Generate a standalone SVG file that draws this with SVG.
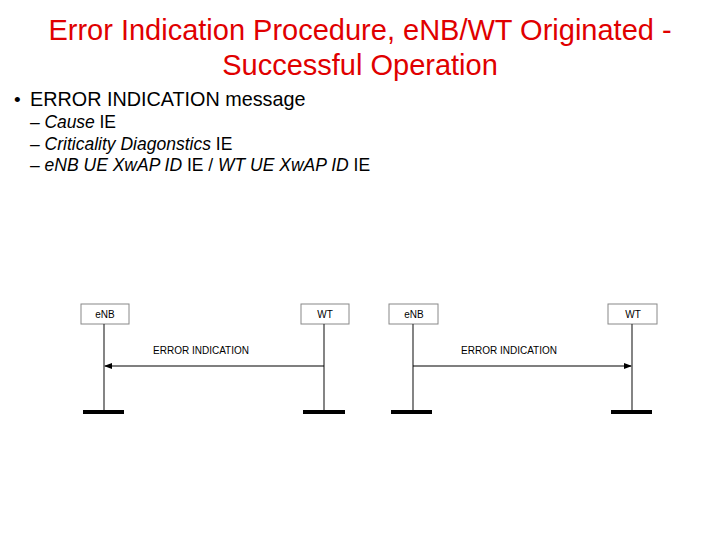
<svg xmlns="http://www.w3.org/2000/svg" width="720" height="540" viewBox="0 0 720 540">
<style>
.t{font-family:"Liberation Sans",Arial,sans-serif;fill:#e00000;font-size:29px;text-anchor:middle}
.b{font-family:"Liberation Sans",Arial,sans-serif;fill:#000}
.box{fill:#fff;stroke:#888;stroke-width:1}
.lbl{font-family:"Liberation Sans",Arial,sans-serif;font-size:10px;text-anchor:middle;fill:#000}
.life{stroke:#333;stroke-width:1.2}
.bar{fill:#000}
.msg{stroke:#000;stroke-width:1.2;fill:none}
</style>
<defs><marker id="ah" markerWidth="8" markerHeight="6" refX="7" refY="3" orient="auto" markerUnits="userSpaceOnUse"><path d="M0,0 L8,3 L0,6 z" fill="#000"/></marker></defs>
<text class="t" x="360" y="40">Error Indication Procedure, eNB/WT Originated -</text>
<text class="t" x="360" y="75">Successful Operation</text>
<text class="b" x="14" y="106" font-size="19">•</text>
<text class="b" x="30" y="106" font-size="19.8">ERROR INDICATION message</text>
<text class="b" x="30" y="128" font-size="17.5" textLength="86">– <tspan font-style="italic">Cause</tspan> IE</text>
<text class="b" x="30" y="150" font-size="17.5">– <tspan font-style="italic">Criticality Diagonstics</tspan> IE</text>
<text class="b" x="30" y="171" font-size="17.5">– <tspan font-style="italic">eNB UE XwAP ID</tspan> IE / <tspan font-style="italic">WT UE XwAP ID</tspan> IE</text>
<g id="l-enb"><rect class="box" x="81" y="304" width="48" height="20"/><text class="lbl" x="105" y="318">eNB</text><line class="life" x1="104" y1="324" x2="104" y2="410"/><rect class="bar" x="83" y="410" width="41" height="4"/></g>
<g id="l-wt"><rect class="box" x="301" y="304" width="48" height="20"/><text class="lbl" x="325" y="318">WT</text><line class="life" x1="324" y1="324" x2="324" y2="410"/><rect class="bar" x="303" y="410" width="42" height="4"/></g>
<g id="r-enb"><rect class="box" x="389" y="304" width="49" height="20"/><text class="lbl" x="414" y="318">eNB</text><line class="life" x1="413" y1="324" x2="413" y2="410"/><rect class="bar" x="391" y="410" width="41" height="4"/></g>
<g id="r-wt"><rect class="box" x="608" y="304" width="49" height="20"/><text class="lbl" x="633" y="318">WT</text><line class="life" x1="632" y1="324" x2="632" y2="410"/><rect class="bar" x="611" y="410" width="41" height="4"/></g>
<g id="connectors">
<line class="msg" x1="324" y1="366" x2="105" y2="366" marker-end="url(#ah)"/>
<text class="lbl" x="201" y="354">ERROR INDICATION</text>
<line class="msg" x1="413" y1="366" x2="631" y2="366" marker-end="url(#ah)"/>
<text class="lbl" x="509" y="354">ERROR INDICATION</text>
</g>
</svg>
